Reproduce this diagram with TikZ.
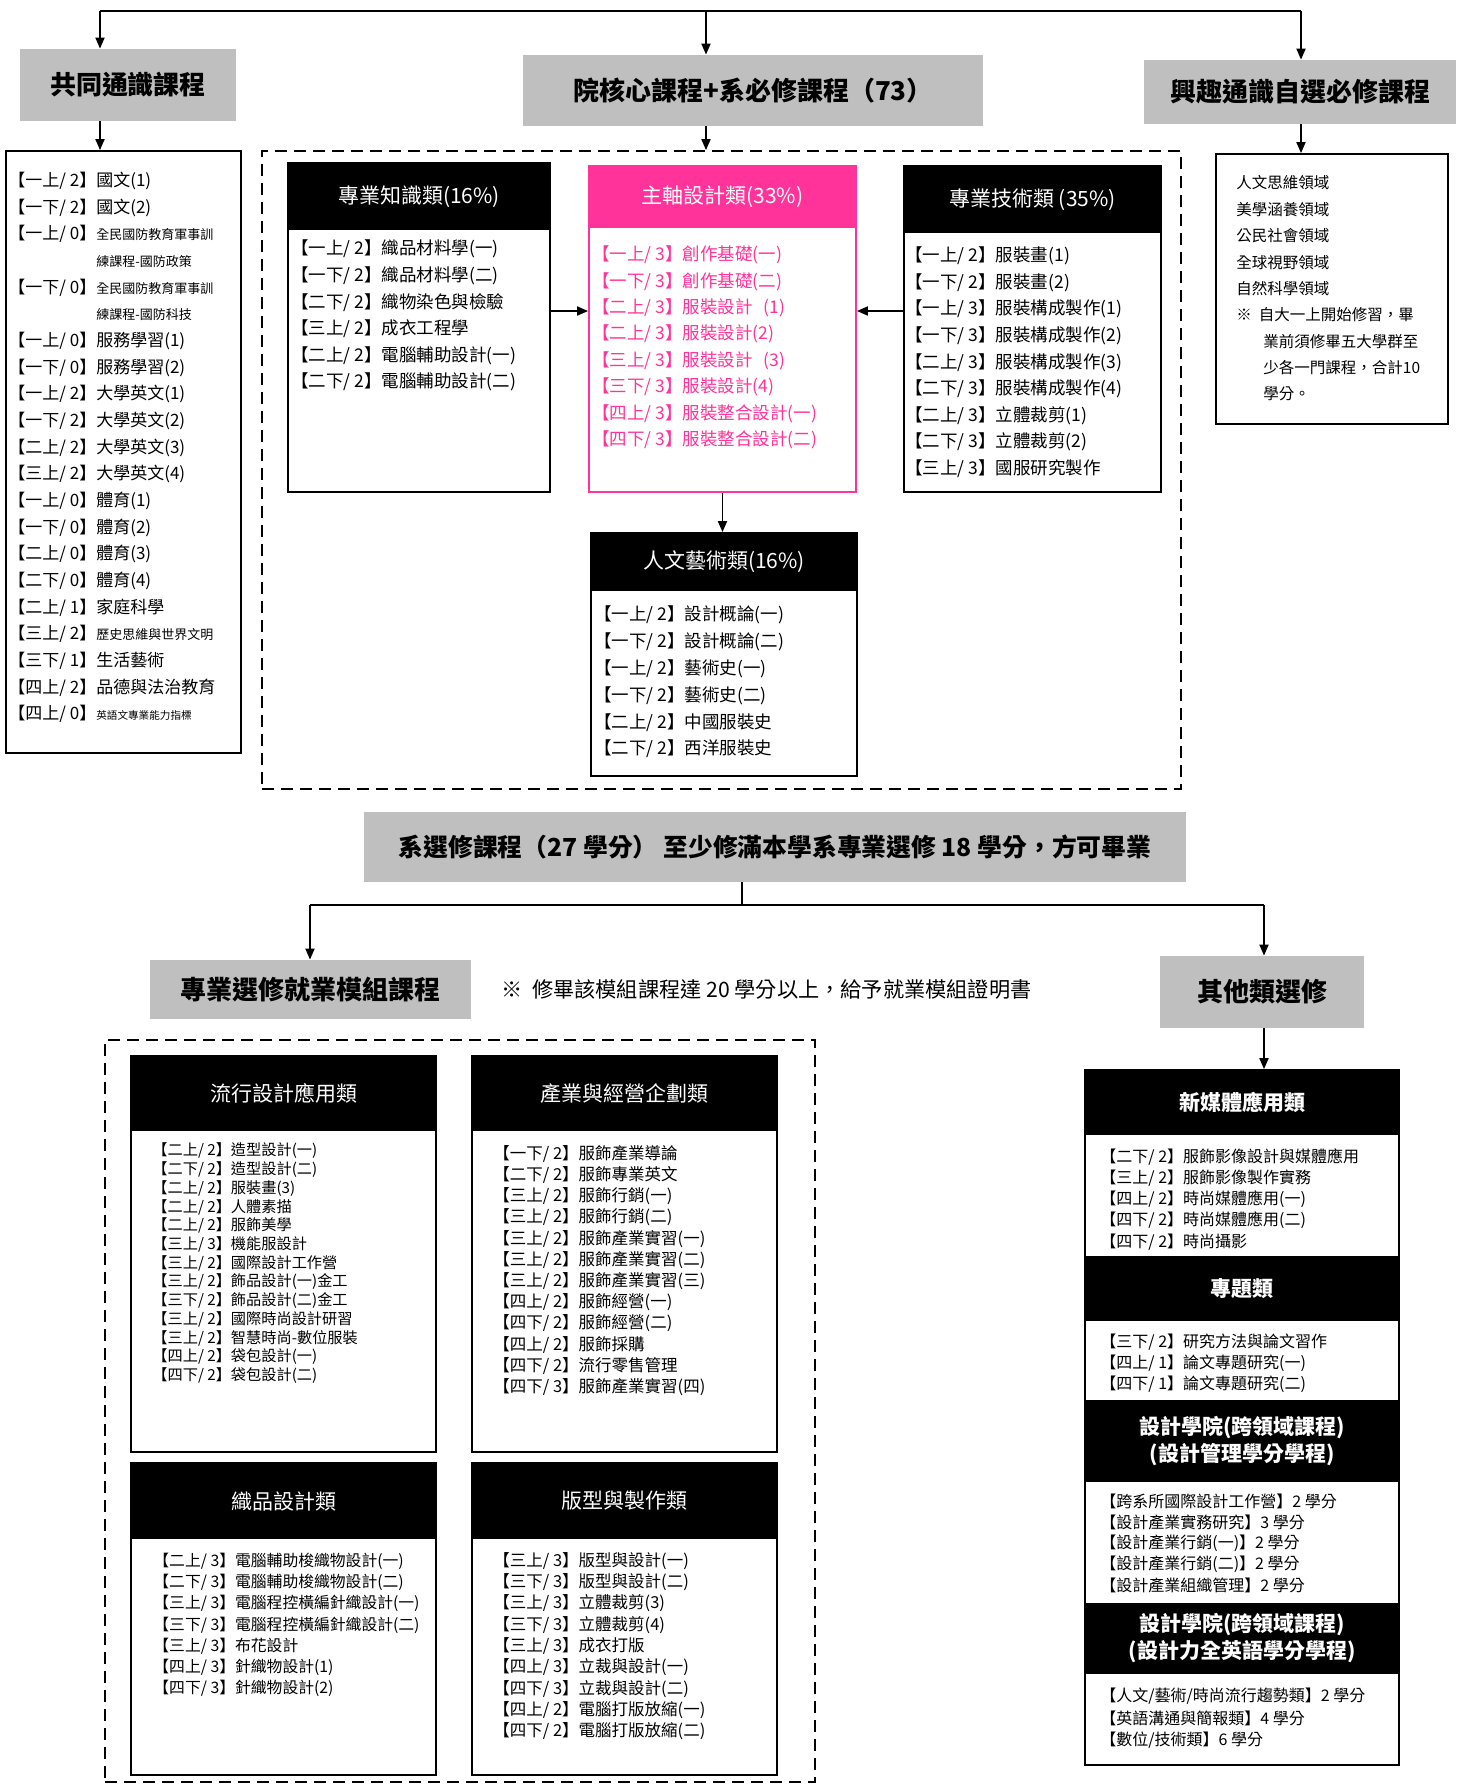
\documentclass[tikz,border=0pt]{standalone}
\usepackage{fontspec}
\setmainfont{Noto Sans CJK TC}
\usetikzlibrary{fit,arrows.meta}
\definecolor{grayc}{HTML}{BFBFBF}
\definecolor{pinkc}{HTML}{FF3399}
\newcommand\fsz[1]{\fontsize{#1}{#1}\selectfont}
\newcommand\clines[6]{\foreach \t [count=\i from 0] in {#6}{\node[#1] (#2-\i) at (#3,{#4+\i*#5}) {\t};}}
\begin{document}
\begin{tikzpicture}[x=0.5pt,y=-0.5pt,
  frame/.style={draw, line width=0.9pt, inner sep=0pt},
  pframe/.style={draw=pinkc, line width=0.9pt, inner sep=0pt},
  hdr/.style={fill=black, inner sep=0pt},
  phdr/.style={fill=pinkc, inner sep=0pt},
  htext/.style={text=white, inner sep=0pt, font=\fsz{10.5}},
  bhtext/.style={text=white, inner sep=0pt, align=center, font=\bfseries\fontsize{10.5}{13.5}\selectfont},
  grayb/.style={fill=grayc, inner sep=0pt},
  gtext/.style={inner sep=0pt, font=\bfseries\fsz{13}},
  arr/.style={-{Triangle[length=5.5pt,width=4.5pt]}, line width=0.9pt},
  ln/.style={line width=0.9pt},
  dbox/.style={draw, line width=0.9pt, dash pattern=on 6pt off 3.5pt, inner sep=0pt},
  item/.style={anchor=west, inner sep=0pt}]
\fill[white] (0,0) rectangle (1463,1785);
\useasboundingbox (0,0) rectangle (1463,1785);

% ---------- top gray headings ----------
\node[grayb, fit={(20,49)(236,121)}] (g1) {};
\node[gtext] (g1t) at (g1) {共同通識課程};
\node[grayb, fit={(523,55)(983,126)}] (g2) {};
\node[gtext] (g2t) at (g2) {院核心課程+系必修課程（73）};
\node[grayb, fit={(1144,60)(1456,124)}] (g3) {};
\node[gtext] (g3t) at (g3) {興趣通識自選必修課程};

\coordinate (t1) at (100,11);
\coordinate (t2) at (706,11);
\coordinate (t3) at (1301,11);
\draw[ln] (t1) -- (t3);
\draw[arr] (t1) -- (t1 |- g1.north);
\draw[arr] (t2) -- (t2 |- g2.north);
\draw[arr] (t3) -- (t3 |- g3.north);

% ---------- left list ----------
\node[frame, fit={(6,151)(241,753)}] (gl) {};
\draw[arr] (g1.south -| t1) -- (t1 |- gl.north);
\clines{item,font=\fsz{8.5}}{gli}{8}{181}{26.65}{
 {【一上/ 2】國文(1)},
 {【一下/ 2】國文(2)},
 {【一上/ 0】{\fsz{6.5}全民國防教育軍事訓}},
 {\phantom{【一上/ 0】}{\fsz{6.5}練課程-國防政策}},
 {【一下/ 0】{\fsz{6.5}全民國防教育軍事訓}},
 {\phantom{【一上/ 0】}{\fsz{6.5}練課程-國防科技}},
 {【一上/ 0】服務學習(1)},
 {【一下/ 0】服務學習(2)},
 {【一上/ 2】大學英文(1)},
 {【一下/ 2】大學英文(2)},
 {【二上/ 2】大學英文(3)},
 {【三上/ 2】大學英文(4)},
 {【一上/ 0】體育(1)},
 {【一下/ 0】體育(2)},
 {【二上/ 0】體育(3)},
 {【二下/ 0】體育(4)},
 {【二上/ 1】家庭科學},
 {【三上/ 2】{\fsz{6.5}歷史思維與世界文明}},
 {【三下/ 1】生活藝術},
 {【四上/ 2】品德與法治教育},
 {【四上/ 0】{\fsz{5.3}英語文專業能力指標}}}

% ---------- core dashed box ----------
\node[dbox, fit={(262,151)(1181,789)}] (core) {};
\draw[arr] (g2.south -| t2) -- (t2 |- core.north);

% 專業知識類
\node[hdr, fit={(288,163)(550,230)}] (zskh) {};
\node[frame, fit={(288,163)(550,492)}] (zsk) {};
\node[htext] (zskt) at (zskh) {專業知識類(16\%)};
\clines{item,font=\fsz{8.75}}{zski}{291}{249}{26.6}{
 {【一上/ 2】織品材料學(一)},
 {【一下/ 2】織品材料學(二)},
 {【二下/ 2】織物染色與檢驗},
 {【三上/ 2】成衣工程學},
 {【二上/ 2】電腦輔助設計(一)},
 {【二下/ 2】電腦輔助設計(二)}}

% 主軸設計類
\node[phdr, fit={(589,166)(856,228)}] (zzh) {};
\node[pframe, fit={(589,166)(856,492)}] (zz) {};
\node[htext] (zzt) at (zzh) {主軸設計類(33\%)};
\clines{item,font=\fsz{8.75},text=pinkc}{zzi}{592}{255}{26.4}{
 {【一上/ 3】創作基礎(一)},
 {【一下/ 3】創作基礎(二)},
 {【二上/ 3】服裝設計\hspace{0.6em}(1)},
 {【二上/ 3】服裝設計(2)},
 {【三上/ 3】服裝設計\hspace{0.6em}(3)},
 {【三下/ 3】服裝設計(4)},
 {【四上/ 3】服裝整合設計(一)},
 {【四下/ 3】服裝整合設計(二)}}

% 專業技術類
\node[hdr, fit={(904,166)(1161,233)}] (zth) {};
\node[frame, fit={(904,166)(1161,492)}] (zt) {};
\node[htext] (ztt) at (zth) {專業技術類\ (35\%)};
\clines{item,font=\fsz{8.75}}{zti}{905}{256}{26.6}{
 {【一上/ 2】服裝畫(1)},
 {【一下/ 2】服裝畫(2)},
 {【一上/ 3】服裝構成製作(1)},
 {【一下/ 3】服裝構成製作(2)},
 {【二上/ 3】服裝構成製作(3)},
 {【二下/ 3】服裝構成製作(4)},
 {【二上/ 3】立體裁剪(1)},
 {【二下/ 3】立體裁剪(2)},
 {【三上/ 3】國服研究製作}}

% 人文藝術類
\node[hdr, fit={(591,533)(857,591)}] (rwh) {};
\node[frame, fit={(591,533)(857,776)}] (rw) {};
\node[htext] (rwt) at (rwh) {人文藝術類(16\%)};
\clines{item,font=\fsz{8.75}}{rwi}{594}{615}{26.8}{
 {【一上/ 2】設計概論(一)},
 {【一下/ 2】設計概論(二)},
 {【一上/ 2】藝術史(一)},
 {【一下/ 2】藝術史(二)},
 {【二上/ 2】中國服裝史},
 {【二下/ 2】西洋服裝史}}

\coordinate (ay) at (0,311);
\draw[arr] (zsk.east |- ay) -- (zz.west |- ay);
\draw[arr] (zt.west |- ay) -- (zz.east |- ay);
\draw[arr] (zz.south) -- (zz.south |- rw.north);

% ---------- right list ----------
\node[frame, fit={(1216,154)(1448,424)}] (g3b) {};
\draw[arr] (g3.south -| t3) -- (t3 |- g3b.north);
\clines{item,font=\fsz{7.75}}{g3i}{1236}{183}{26.4}{
 人文思維領域, 美學涵養領域, 公民社會領域, 全球視野領域, 自然科學領域,
 {※\ \ 自大一上開始修習，畢}}
\clines{item,font=\fsz{7.75}}{g3j}{1263}{341.4}{26.4}{
 業前須修畢五大學群至, 少各一門課程，合計10, 學分。}

% ---------- elective section ----------
\node[grayb, fit={(364,812)(1186,882)}] (sel) {};
\node[gtext, font=\bfseries\fsz{12.4}] (selt) at (sel) {系選修課程（27 學分）\ 至少修滿本學系專業選修 18 學分，方可畢業};
\coordinate (m0) at (742,905);
\coordinate (mL) at (310,905);
\coordinate (mR) at (1264,905);
\draw[ln] (sel.south -| m0) -- (m0);
\draw[ln] (mL) -- (mR);

\node[grayb, fit={(150,960)(471,1019)}] (mod) {};
\node[gtext] (modt) at (mod) {專業選修就業模組課程};
\node[item, font=\fsz{10.6}] (note) at (501,989) {※\ \ 修畢該模組課程達 20 學分以上，給予就業模組證明書};
\node[grayb, fit={(1160,956)(1364,1028)}] (oth) {};
\node[gtext] (otht) at (oth) {其他類選修};
\draw[arr] (mL) -- (mL |- mod.north);
\draw[arr] (mR) -- (mR |- oth.north);

% ---------- module dashed box ----------
\node[dbox, fit={(105,1040)(815,1782)}] (mdash) {};

% 流行設計應用類
\node[hdr, fit={(131,1056)(436,1131)}] (f1h) {};
\node[frame, fit={(131,1056)(436,1452)}] (f1) {};
\node[htext] (f1t) at (f1h) {流行設計應用類};
\clines{item,font=\fsz{7.6}}{f1i}{152}{1151}{18.7}{
 {【二上/ 2】造型設計(一)},
 {【二下/ 2】造型設計(二)},
 {【二上/ 2】服裝畫(3)},
 {【二上/ 2】人體素描},
 {【二上/ 2】服飾美學},
 {【三上/ 3】機能服設計},
 {【三上/ 2】國際設計工作營},
 {【三上/ 2】飾品設計(一)金工},
 {【三下/ 2】飾品設計(二)金工},
 {【三上/ 2】國際時尚設計研習},
 {【三上/ 2】智慧時尚-數位服裝},
 {【四上/ 2】袋包設計(一)},
 {【四下/ 2】袋包設計(二)}}

% 產業與經營企劃類
\node[hdr, fit={(472,1056)(777,1131)}] (f2h) {};
\node[frame, fit={(472,1056)(777,1452)}] (f2) {};
\node[htext] (f2t) at (f2h) {產業與經營企劃類};
\clines{item,font=\fsz{8.25}}{f2i}{493}{1154}{21.2}{
 {【一下/ 2】服飾產業導論},
 {【二下/ 2】服飾專業英文},
 {【三上/ 2】服飾行銷(一)},
 {【三上/ 2】服飾行銷(二)},
 {【三上/ 2】服飾產業實習(一)},
 {【三上/ 2】服飾產業實習(二)},
 {【三上/ 2】服飾產業實習(三)},
 {【四上/ 2】服飾經營(一)},
 {【四下/ 2】服飾經營(二)},
 {【四上/ 2】服飾採購},
 {【四下/ 2】流行零售管理},
 {【四下/ 3】服飾產業實習(四)}}

% 織品設計類
\node[hdr, fit={(131,1463)(436,1539)}] (f3h) {};
\node[frame, fit={(131,1463)(436,1775)}] (f3) {};
\node[htext] (f3t) at (f3h) {織品設計類};
\clines{item,font=\fsz{7.9}}{f3i}{153}{1561}{21.3}{
 {【二上/ 3】電腦輔助梭織物設計(一)},
 {【二下/ 3】電腦輔助梭織物設計(二)},
 {【三上/ 3】電腦程控橫編針織設計(一)},
 {【三下/ 3】電腦程控橫編針織設計(二)},
 {【三上/ 3】布花設計},
 {【四上/ 3】針織物設計(1)},
 {【四下/ 3】針織物設計(2)}}

% 版型與製作類
\node[hdr, fit={(472,1463)(777,1539)}] (f4h) {};
\node[frame, fit={(472,1463)(777,1775)}] (f4) {};
\node[htext] (f4t) at (f4h) {版型與製作類};
\clines{item,font=\fsz{8.25}}{f4i}{493}{1561}{21.3}{
 {【三上/ 3】版型與設計(一)},
 {【三下/ 3】版型與設計(二)},
 {【三上/ 3】立體裁剪(3)},
 {【三下/ 3】立體裁剪(4)},
 {【三上/ 3】成衣打版},
 {【四上/ 3】立裁與設計(一)},
 {【四下/ 3】立裁與設計(二)},
 {【四上/ 2】電腦打版放縮(一)},
 {【四下/ 2】電腦打版放縮(二)}}

% ---------- right stack ----------
\node[hdr, fit={(1085,1070)(1399,1135)}] (r1h) {};
\node[hdr, fit={(1085,1256)(1399,1321)}] (r2h) {};
\node[hdr, fit={(1085,1400)(1399,1482)}] (r3h) {};
\node[hdr, fit={(1085,1603)(1399,1674)}] (r4h) {};
\node[frame, fit={(1085,1070)(1399,1765)}] (rs) {};
\draw[arr] (oth.south -| mR) -- (mR |- rs.north);
\node[bhtext] (r1t) at (r1h) {新媒體應用類};
\node[bhtext] (r2t) at (r2h) {專題類};
\node[bhtext] (r3t) at (r3h) {設計學院(跨領域課程)\\(設計管理學分學程)};
\node[bhtext] (r4t) at (r4h) {設計學院(跨領域課程)\\(設計力全英語學分學程)};
\clines{item,font=\fsz{8}}{r1i}{1100}{1157}{21.2}{
 {【二下/ 2】服飾影像設計與媒體應用},
 {【三上/ 2】服飾影像製作實務},
 {【四上/ 2】時尚媒體應用(一)},
 {【四下/ 2】時尚媒體應用(二)},
 {【四下/ 2】時尚攝影}}
\clines{item,font=\fsz{8}}{r2i}{1100}{1342}{21}{
 {【三下/ 2】研究方法與論文習作},
 {【四上/ 1】論文專題研究(一)},
 {【四下/ 1】論文專題研究(二)}}
\clines{item,font=\fsz{8}}{r3i}{1100}{1501}{21}{
 {【跨系所國際設計工作營】2 學分},
 {【設計產業實務研究】3 學分},
 {【設計產業行銷(一)】2 學分},
 {【設計產業行銷(二)】2 學分},
 {【設計產業組織管理】2 學分}}
\clines{item,font=\fsz{8}}{r4i}{1100}{1696}{22}{
 {【人文/藝術/時尚流行趨勢類】2 學分},
 {【英語溝通與簡報類】4 學分},
 {【數位/技術類】6 學分}}
\end{tikzpicture}
\end{document}
